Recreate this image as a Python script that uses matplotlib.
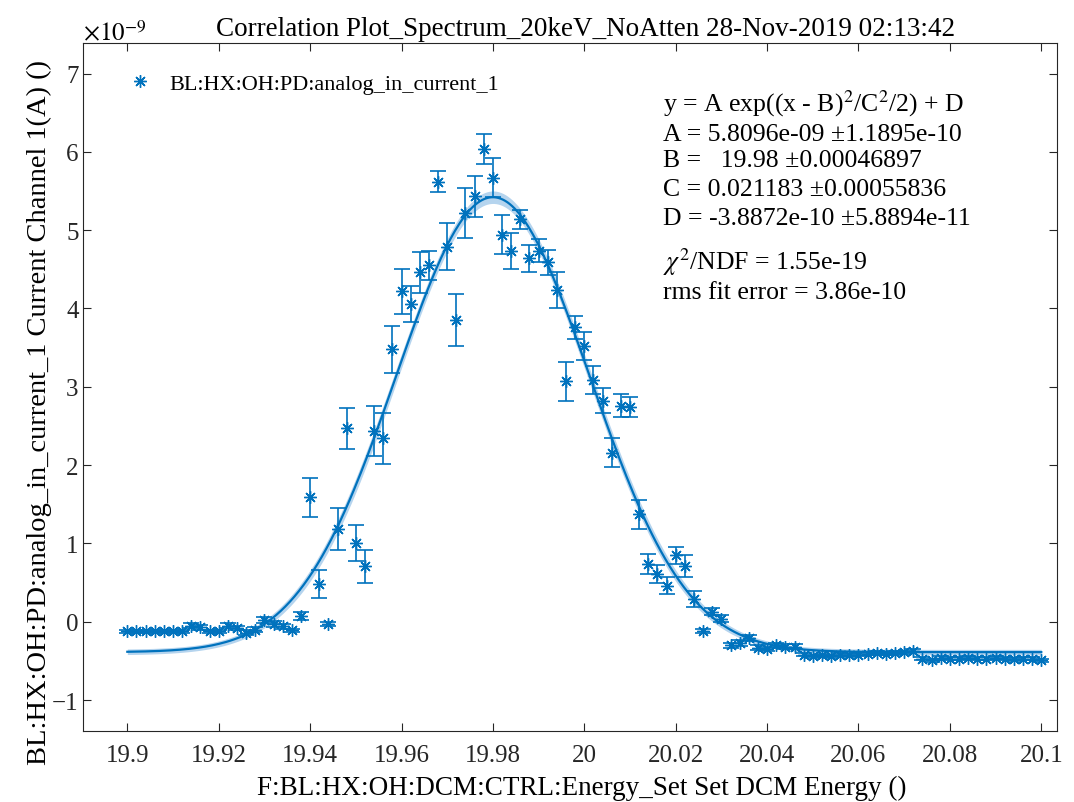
import numpy as np
import matplotlib
matplotlib.use("Agg")
import matplotlib.pyplot as plt

plt.rcParams['font.family'] = ['Liberation Serif', 'DejaVu Serif']
plt.rcParams['mathtext.fontset'] = 'stix'

# energy set points (keV), 0.002 step
energy = np.round(np.arange(19.9, 20.1001, 0.002), 4)

# current (x1e-9 A)
current = np.array([
    -0.12, -0.12, -0.12, -0.12, -0.12, -0.12, -0.12, -0.05, -0.07, -0.12,
    -0.12, -0.05, -0.08, -0.14, -0.10, 0.02, -0.03, -0.06, -0.11, 0.07,
    1.59, 0.48, -0.03, 1.18, 2.47, 1.00, 0.71, 2.44, 2.34, 3.48,
    4.22, 4.06, 4.46, 4.55, 5.62, 4.79, 3.85, 5.22, 5.43, 6.04,
    5.67, 4.94, 4.73, 5.14, 4.64, 4.74, 4.59, 4.23, 3.07, 3.76,
    3.52, 3.09, 2.82, 2.16, 2.76, 2.74, 1.37, 0.74, 0.61, 0.46,
    0.85, 0.71, 0.29, -0.12, 0.13, 0.04, -0.30, -0.27, -0.21, -0.33,
    -0.35, -0.30, -0.32, -0.32, -0.42, -0.44, -0.43, -0.44, -0.42, -0.43,
    -0.42, -0.41, -0.40, -0.41, -0.40, -0.39, -0.37, -0.47, -0.49, -0.46,
    -0.47, -0.47, -0.46, -0.47, -0.47, -0.46, -0.47, -0.48, -0.47, -0.47,
    -0.49])

current_err = np.array([
    0.02, 0.02, 0.02, 0.02, 0.02, 0.02, 0.02, 0.03, 0.03, 0.02,
    0.02, 0.03, 0.03, 0.03, 0.03, 0.04, 0.04, 0.03, 0.02, 0.05,
    0.25, 0.18, 0.03, 0.27, 0.26, 0.23, 0.21, 0.32, 0.32, 0.30,
    0.29, 0.23, 0.26, 0.19, 0.13, 0.30, 0.33, 0.32, 0.26, 0.19,
    0.25, 0.25, 0.23, 0.12, 0.17, 0.15, 0.16, 0.23, 0.25, 0.15,
    0.18, 0.18, 0.16, 0.19, 0.15, 0.13, 0.18, 0.13, 0.12, 0.11,
    0.11, 0.14, 0.10, 0.03, 0.05, 0.05, 0.03, 0.04, 0.04, 0.03,
    0.03, 0.03, 0.03, 0.03, 0.02, 0.02, 0.02, 0.02, 0.02, 0.02,
    0.02, 0.02, 0.02, 0.02, 0.02, 0.02, 0.02, 0.02, 0.02, 0.02,
    0.02, 0.02, 0.02, 0.02, 0.02, 0.02, 0.02, 0.02, 0.02, 0.02,
    0.02])

# fit parameters shown on the plot (y in units of 1e-9)
A, dA = 5.8096, 0.11895
B, dB = 19.98, 0.00046897
C, dC = 0.021183, 0.00055836
D, dD = -0.38872, 0.058894

fit_lines = [
    r'y = A exp((x - B)$^2$/C$^2$/2) + D',
    'A = 5.8096e-09 \u00b11.1895e-10',
    'B =   19.98 \u00b10.00046897',
    'C = 0.021183 \u00b10.00055836',
    'D = -3.8872e-10 \u00b15.8894e-11',
    r'$\chi^2$/NDF = 1.55e-19',
    'rms fit error = 3.86e-10',
]

blue = '#0072BD'

xf = np.linspace(19.9, 20.1, 400)
g = np.exp(-(xf - B)**2 / (2 * C**2))
yf = A * g + D
sig = np.sqrt((dA * g)**2 + (A * g * (xf - B) / C**2 * dB)**2
              + (A * g * (xf - B)**2 / C**3 * dC)**2 + dD**2)

fig = plt.figure(figsize=(10.74, 8.03), dpi=100)
ax = fig.add_axes([0.0777, 0.0884, 0.9063, 0.8568])

ax.fill_between(xf, yf - 0.6 * sig, yf + 0.6 * sig, color='#b5d4ee', lw=0)
ax.plot(xf, yf, color=blue, lw=1.6)

ax.errorbar(energy, current, yerr=current_err, fmt='none', ecolor=blue,
            elinewidth=1.2, capsize=6, capthick=1.2)
ax.plot(energy, current, ls='none', marker=(8, 2, 0), ms=9, mew=1.0,
        color=blue, label='BL:HX:OH:PD:analog_in_current_1')

ax.set_xlim(19.8904, 20.1034)
ax.set_ylim(-1.396, 7.39)
ax.set_xticks(np.arange(19.9, 20.1001, 0.02))
ax.set_xticklabels(['19.9', '19.92', '19.94', '19.96', '19.98', '20',
                    '20.02', '20.04', '20.06', '20.08', '20.1'])
ax.set_yticks(np.arange(-1, 8))
ax.tick_params(direction='in', length=6, width=0.8, labelsize=18,
               top=True, right=True, colors='#262626')
ax.tick_params(axis='x', pad=9)
for s in ax.spines.values():
    s.set_color('#262626')
    s.set_linewidth(0.8)

ax.set_title('Correlation Plot_Spectrum_20keV_NoAtten 28-Nov-2019 02:13:42',
             fontsize=19.5, x=0.516, pad=6)
ax.set_xlabel('F:BL:HX:OH:DCM:CTRL:Energy_Set Set DCM Energy ()', fontsize=19.5)
ax.xaxis.set_label_coords(0.512, -0.063)
ax.set_ylabel('BL:HX:OH:PD:analog_in_current_1 Current Channel 1(A) ()', fontsize=20.5)
ax.yaxis.set_label_coords(-0.032, 0.465)
ax.text(0.0, 0.997, r'$\times 10^{-9}$', transform=ax.transAxes, fontsize=18,
        ha='left', va='bottom')

ax.legend(loc='upper left', frameon=False, fontsize=16, handletextpad=0.3,
          bbox_to_anchor=(0.015, 0.985))

ys = [104, 135, 161, 190, 219, 262, 293]
for t, yp in zip(fit_lines, ys):
    fig.text(663 / 1074, 1 - yp / 803, t, fontsize=18.5, ha='left', va='center')

fig.savefig('out.png', dpi=100)
